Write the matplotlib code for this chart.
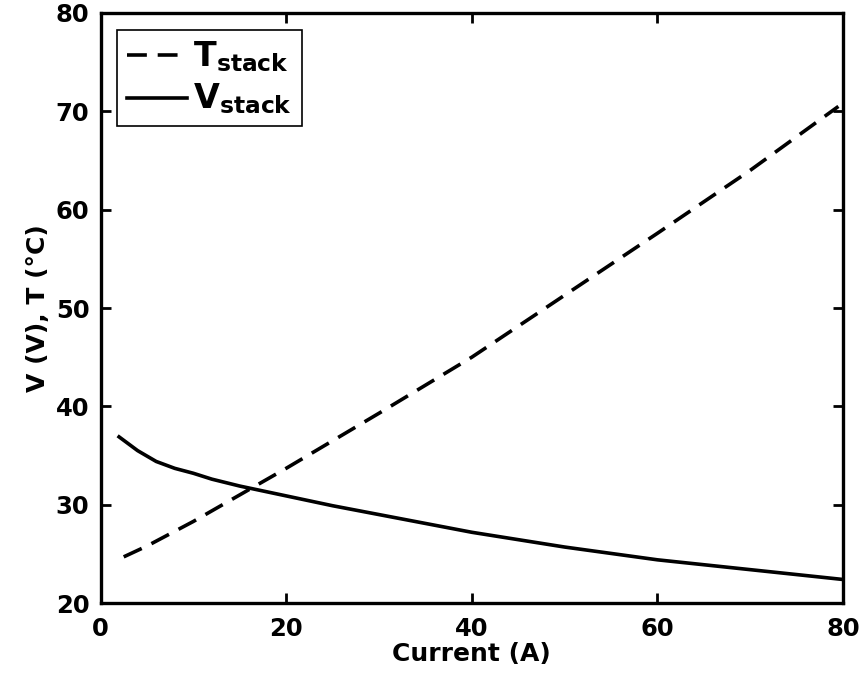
import numpy as np
import matplotlib
matplotlib.use('Agg')
from matplotlib import pyplot as plt

# Stack voltage and temperature vs current
current_v = [2, 4, 6, 8, 10, 12, 15, 20, 25, 30, 40, 50, 60, 70, 80]
v_stack = [36.9, 35.5, 34.4, 33.7, 33.2, 32.6, 31.9, 30.9, 29.9, 29.0, 27.2, 25.7, 24.4, 23.4, 22.4]

current_t = [2.5, 5, 10, 15, 20, 25, 30, 40, 50, 60, 70, 79.5]
t_stack = [24.7, 25.8, 28.3, 31.0, 33.7, 36.5, 39.3, 45.0, 51.3, 57.6, 64.0, 70.5]

x_ticks = [0, 20, 40, 60, 80]
y_ticks = [20, 30, 40, 50, 60, 70, 80]

plt.rcParams['font.family'] = ['DejaVu Sans']
plt.rcParams['font.weight'] = 'bold'
plt.rcParams['mathtext.fontset'] = 'dejavusans'

fig = plt.figure(figsize=(8.62, 6.83), dpi=100)
ax = fig.add_axes([0.1166, 0.117, 0.8614, 0.864])

ax.plot(current_t, t_stack, color='black', lw=2.6, dashes=(5.5, 3), label=r'$\mathbf{T_{stack}}$')
ax.plot(current_v, v_stack, color='black', lw=2.6, label=r'$\mathbf{V_{stack}}$')

ax.set_xlim(0, 80)
ax.set_ylim(20, 80)
ax.set_xticks(x_ticks)
ax.set_yticks(y_ticks)
ax.tick_params(direction='in', length=7, width=2, top=True, right=True, labelsize=17.5)
ax.tick_params(axis='x', pad=10)
ax.tick_params(axis='y', pad=8)
for lab in ax.get_xticklabels() + ax.get_yticklabels():
    lab.set_fontweight('bold')
for sp in ax.spines.values():
    sp.set_linewidth(2.4)

ax.set_xlabel('Current (A)', fontsize=18, fontweight='bold', labelpad=1)
ax.set_ylabel('V (V), T (°C)', fontsize=18, fontweight='bold', labelpad=4)

leg = ax.legend(loc='upper left', fontsize=24, handlelength=1.8, handletextpad=0.18,
                borderaxespad=0.5, fancybox=False, framealpha=1, edgecolor='black',
                borderpad=0.3, labelspacing=0.22, handleheight=0.6)
leg.get_frame().set_linewidth(1.2)

fig.savefig('out.png', dpi=100)
